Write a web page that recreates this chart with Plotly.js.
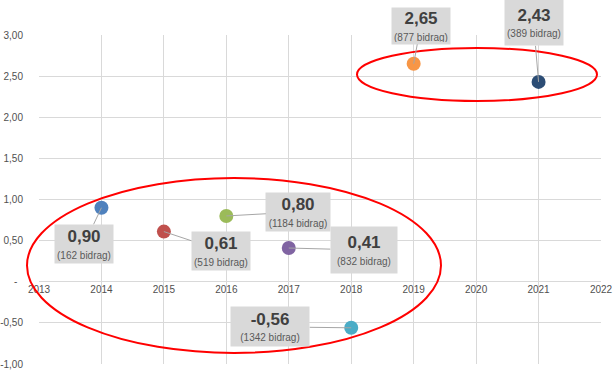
<!DOCTYPE html>
<html><head><meta charset="utf-8">
<script src="https://cdn.plot.ly/plotly-3.0.1.min.js"></script>
<style>html,body{margin:0;padding:0;background:#fff}#c{width:614px;height:370px}</style>
</head><body><div id="c"></div>
<script>
const years = [2014, 2015, 2016, 2017, 2018, 2019, 2021];
const values = [0.90, 0.61, 0.80, 0.41, -0.56, 2.65, 2.43];
const valueLabels = ['0,90', '0,61', '0,80', '0,41', '-0,56', '2,65', '2,43'];
const counts = [162, 519, 1184, 832, 1342, 877, 389];
const colors = ['#4F81BD', '#C0504D', '#9BBB59', '#8064A2', '#4BACC6', '#F79646', '#2C4D75'];
const xTicks = [2013, 2014, 2015, 2016, 2017, 2018, 2019, 2020, 2021, 2022];
const yTicks = [3, 2.5, 2, 1.5, 1, 0.5, 0, -0.5, -1];
const yTickText = ['3,00', '2,50', '2,00', '1,50', '1,00', '0,50', '-\u00a0\u00a0', '-0,50', '-1,00'];

// label box placement (pixel offsets of box centre from the point, box size)
const boxLayout = [
  {ax: -17, ay: 36, w: 54, h: 34},
  {ax: 57, ay: 19, w: 54, h: 34},
  {ax: 72, ay: -4, w: 60, h: 34},
  {ax: 75, ay: 2, w: 62, h: 42},
  {ax: -81, ay: -1, w: 74, h: 35},
  {ax: 7, ay: -38, w: 54, h: 32},
  {ax: -5, ay: -59, w: 54, h: 41}
];

const FONT = "'Liberation Sans', Arial, sans-serif";

const annotations = years.map((yr, i) => ({
  x: yr, y: values[i], xref: 'x', yref: 'y',
  showarrow: true, arrowhead: 0, arrowwidth: 1, arrowcolor: '#A6A6A6',
  ax: boxLayout[i].ax, ay: boxLayout[i].ay,
  width: boxLayout[i].w, height: boxLayout[i].h,
  bgcolor: '#D9D9D9', borderpad: 2,
  text: '<span style="font-size:17px"><b>' + valueLabels[i] + '</b></span><br><span style="font-size:10px;color:#595959">(' + counts[i] + ' bidrag)</span>',
  font: {family: FONT, size: 13, color: '#404040'},
  align: 'center', valign: 'middle'
}));

const data = [{
  type: 'scatter', mode: 'markers', x: years, y: values,
  marker: {size: 14, color: colors},
  hoverinfo: 'skip'
}];

const layout = {
  width: 614, height: 370,
  margin: {l: 39, r: 13, t: 35, b: 6},
  paper_bgcolor: '#fff', plot_bgcolor: '#fff',
  showlegend: false,
  font: {family: FONT},
  xaxis: {
    range: [2013, 2022], tickvals: xTicks, ticktext: xTicks.map(String),
    showgrid: true, gridcolor: '#D9D9D9', gridwidth: 1,
    zeroline: false, showline: false, ticks: '',
    anchor: 'free', position: 0.2492,
    tickfont: {family: FONT, size: 10, color: '#505050'}
  },
  yaxis: {
    range: [-1, 3], tickvals: yTicks, ticktext: yTickText,
    showgrid: true, gridcolor: '#D9D9D9', gridwidth: 1,
    zeroline: true, zerolinecolor: '#D9D9D9', zerolinewidth: 1,
    showline: false, ticks: 'outside', ticklen: 13, tickcolor: 'rgba(0,0,0,0)',
    tickfont: {family: FONT, size: 10, color: '#505050'},
    automargin: false
  },
  shapes: [
    {type: 'circle', xref: 'paper', yref: 'paper',
     x0: (357 - 39) / 562, x1: (597 - 39) / 562,
     y0: (364 - 101) / 329, y1: (364 - 48) / 329,
     line: {color: '#FF0000', width: 2}, fillcolor: 'rgba(0,0,0,0)'},
    {type: 'circle', xref: 'paper', yref: 'paper',
     x0: (27 - 39) / 562, x1: (441 - 39) / 562,
     y0: (364 - 353) / 329, y1: (364 - 178) / 329,
     line: {color: '#FF0000', width: 2}, fillcolor: 'rgba(0,0,0,0)'}
  ],
  annotations: annotations
};

Plotly.newPlot('c', data, layout, {displayModeBar: false, staticPlot: true});
</script></body></html>
